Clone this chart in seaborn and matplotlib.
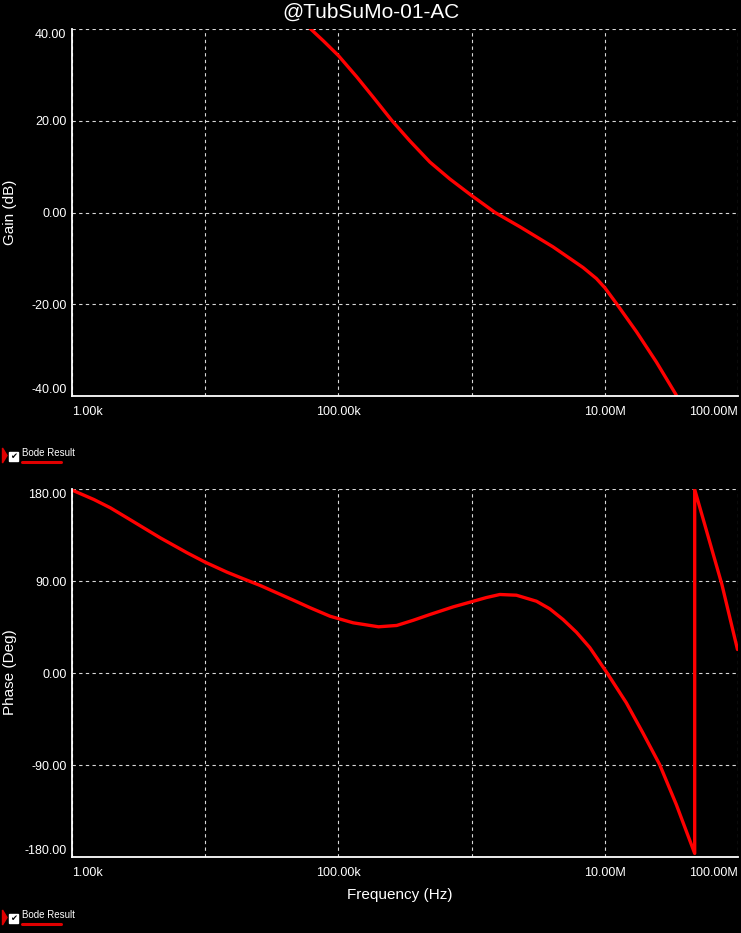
import pandas as pd
import matplotlib.pyplot as plt
import seaborn as sns
from matplotlib.lines import Line2D
from matplotlib.patches import Polygon, Rectangle
from matplotlib.ticker import NullLocator

# gain trace
gain_freq = [61.4e3, 77.2e3, 100e3, 137e3, 183e3, 251e3, 344e3, 486e3, 687e3,
             1.0e6, 1.50e6, 2.30e6, 4.09e6, 6.87e6, 8.65e6, 10e6, 12.2e6,
             17.3e6, 24.4e6, 34.4e6]
gain_db = [40.1, 37.4, 34.2, 29.6, 25.1, 20.1, 15.6, 11.0, 7.3,
           3.7, 0.0, -3.1, -7.5, -12.0, -14.4, -16.4, -19.8,
           -26.0, -32.6, -39.8]

# phase trace, wraps from -180 to +180 near 47 MHz
phase_freq = [1.0e3, 1.46e3, 1.94e3, 2.59e3, 3.45e3, 4.60e3, 7.31e3, 10e3,
              14.6e3, 19.4e3, 25.9e3, 34.5e3, 46.0e3, 61.4e3, 86.7e3, 129e3,
              200e3, 274e3, 365e3, 486e3, 728e3, 1.03e6, 1.29e6, 1.63e6,
              2.17e6, 3.07e6, 3.86e6, 4.86e6, 6.12e6, 7.71e6, 10.3e6, 14.5e6,
              19.3e6, 25.8e6, 34.4e6, 47.3e6, 47.3e6, 75.7e6, 99.1e6]
phase_deg = [179.0, 169.7, 161.6, 151.8, 142.0, 132.2, 117.6, 108.4,
             98.6, 92.1, 85.6, 78.4, 71.2, 63.8, 55.5, 49.1,
             45.2, 46.5, 51.6, 57.2, 64.7, 70.2, 73.8, 76.8,
             76.1, 70.2, 62.8, 52.3, 39.9, 24.9, 0.9, -29.1,
             -58.5, -89.5, -128.6, -176.5, 179.5, 86.6, 23.0]

freq_ticks = [1e3, 1e4, 1e5, 1e6, 1e7, 1e8]
freq_labels = ['1.00k', '', '100.00k', '', '10.00M', '100.00M']
gain_ticks = [-40, -20, 0, 20, 40]
phase_ticks = [-180, -90, 0, 90, 180]

sns.set_style('dark', {'axes.facecolor': 'black', 'figure.facecolor': 'black'})
plt.rcParams['font.family'] = ['Liberation Sans', 'DejaVu Sans']

W, H = 741, 933
fig = plt.figure(figsize=(W / 100, H / 100), dpi=100)
fig.patch.set_facecolor('black')
ax1 = fig.add_axes([72 / W, 1 - 396 / H, 666 / W, 367 / H])
ax2 = fig.add_axes([72 / W, 1 - 857 / H, 666 / W, 368 / H])

gain_df = pd.DataFrame({'Frequency': gain_freq, 'Gain': gain_db})
phase_df = pd.DataFrame({'Frequency': phase_freq, 'Phase': phase_deg})

sns.lineplot(data=gain_df, x='Frequency', y='Gain', ax=ax1, color='#ff0000',
             lw=2.4, sort=False, estimator=None, solid_joinstyle='round')
sns.lineplot(data=phase_df, x='Frequency', y='Phase', ax=ax2, color='#ff0000',
             lw=2.4, sort=False, estimator=None, solid_joinstyle='round')


def style_axis(ax, yticks, ylim):
    ax.set_facecolor('black')
    ax.set_xscale('log')
    ax.set_xlim(1e3, 1e8)
    ax.set_ylim(*ylim)
    for s in ['top', 'right']:
        ax.spines[s].set_visible(False)
    for s in ['left', 'bottom']:
        ax.spines[s].set_visible(True)
        ax.spines[s].set_color('white')
        ax.spines[s].set_linewidth(1.3)
    ax.set_xticks(freq_ticks)
    ax.set_xticklabels(freq_labels)
    ax.xaxis.set_minor_locator(NullLocator())
    ax.set_yticks(yticks)
    ax.set_yticklabels([f'{v:.2f}' for v in yticks])
    ax.grid(True, color='#d8d8d8', linestyle=(0, (3, 3)), linewidth=0.8)
    ax.tick_params(axis='both', colors='white', length=2.5, width=1,
                   labelsize=9, labelcolor='white')
    ax.tick_params(axis='x', pad=5)
    ax.tick_params(axis='y', pad=1.5)
    xl = ax.get_xticklabels()
    xl[0].set_ha('left')
    xl[-1].set_ha('right')
    yl = ax.get_yticklabels()
    yl[0].set_va('bottom')
    yl[-1].set_va('top')
    ax.set_xlabel('')
    ax.set_ylabel('')


style_axis(ax1, gain_ticks, (-40, 40))
style_axis(ax2, phase_ticks, (-180, 180))

fig.text(0.5, 1 - 12 / H, '@TubSuMo-01-AC', color='white', fontsize=15,
         ha='center', va='center')
fig.text(10 / W, 1 - 212 / H, 'Gain (dB)', color='white', fontsize=11,
         rotation=90, ha='center', va='center')
fig.text(10 / W, 1 - 672 / H, 'Phase (Deg)', color='white', fontsize=11,
         rotation=90, ha='center', va='center')
fig.text(400 / W, 1 - 895 / H, 'Frequency (Hz)', color='white', fontsize=11,
         ha='center', va='center')


def legend_item(ytext, yline):
    # red marker, checkbox, label and line sample
    fy = lambda y: 1 - y / H
    fig.add_artist(Polygon([[2.5 / W, fy(ytext - 5)], [2.5 / W, fy(ytext + 10)],
                            [7 / W, fy(ytext + 2.5)]], closed=True,
                           transform=fig.transFigure, color='#e00000'))
    fig.add_artist(Rectangle((9 / W, fy(ytext + 8)), 9 / W, 9 / H,
                             transform=fig.transFigure, color='white'))
    fig.text(13.5 / W, fy(ytext + 3.5), '\u2714', color='black', fontsize=6,
             ha='center', va='center', family='DejaVu Sans')
    fig.text(22 / W, fy(ytext), 'Bode Result', color='white', fontsize=7,
             ha='left', va='center')
    fig.add_artist(Line2D([22 / W, 61 / W], [fy(yline), fy(yline)],
                          transform=fig.transFigure, color='#e00000', lw=2.2))


legend_item(453, 462.5)
legend_item(915, 924)

fig.savefig('out.png', dpi=100, facecolor='black')
